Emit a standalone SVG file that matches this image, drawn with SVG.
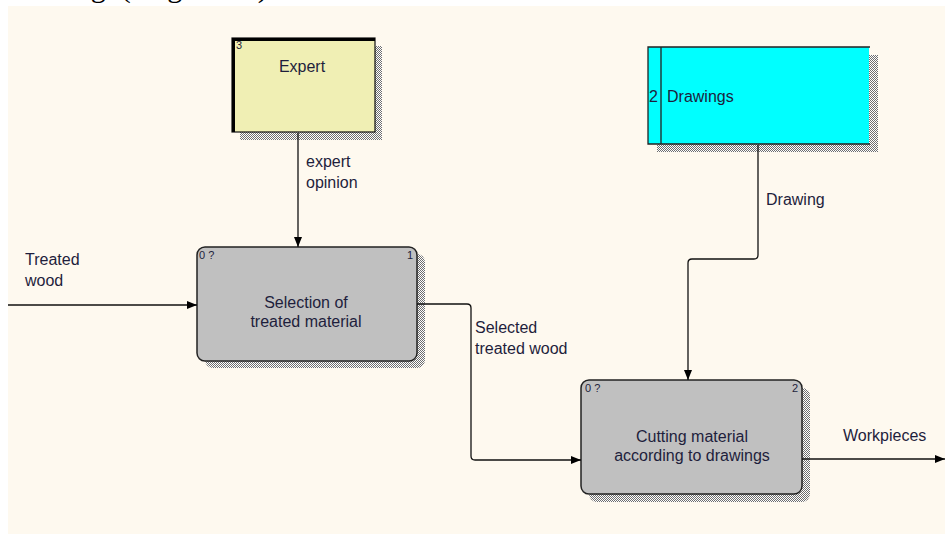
<svg xmlns="http://www.w3.org/2000/svg" width="945" height="534" viewBox="0 0 945 534">
<defs>
<pattern id="hatch" width="2" height="2" patternUnits="userSpaceOnUse">
<rect width="2" height="2" fill="#ffffff"/>
<rect width="1" height="1" fill="#6e6e6e"/>
<rect x="1" y="1" width="1" height="1" fill="#6e6e6e"/>
</pattern>
<marker id="arr" markerWidth="10" markerHeight="8" refX="10" refY="4" orient="auto" markerUnits="userSpaceOnUse">
<path d="M0,0 L10,4 L0,8 Z" fill="#000"/>
</marker>
<style>
.lbl{font-family:"Liberation Sans",Arial,sans-serif;font-size:16px;fill:#1e1e3c}
.sm{font-family:"Liberation Sans",Arial,sans-serif;font-size:11px;fill:#1e1e3c}
.shadow{fill:url(#hatch)}
.proc{fill:#c0c0c0;stroke:#222;stroke-width:1.5}
.conn{fill:none;stroke:#111;stroke-width:1.3}
</style>
</defs>
<rect x="0" y="0" width="945" height="534" fill="#ffffff"/>
<text x="17" y="-3" font-family="'Liberation Serif','Times New Roman',serif" font-size="30" fill="#000" textLength="262">awing (Fig. 3.4).</text>
<rect x="8" y="6" width="937" height="528" fill="#fef9ef"/>

<g id="expert">
<rect class="shadow" x="240" y="46" width="142" height="94"/>
<rect x="232" y="38" width="143" height="94" fill="#f0efb4" stroke="#111" stroke-width="1.2"/>
<path d="M233.5,132 V39.5 H375" fill="none" stroke="#000" stroke-width="3"/>
<text class="sm" x="236" y="49">3</text>
<text class="lbl" x="302" y="72" text-anchor="middle">Expert</text>
</g>

<g id="drawings">
<rect class="shadow" x="657" y="55" width="221" height="97"/>
<rect x="648" y="47" width="221" height="97" fill="#00ffff"/>
<path d="M870,47 H648 V144 H870 M661,47 V144" fill="none" stroke="#222" stroke-width="1.3"/>
<text class="lbl" x="649" y="102">2</text>
<text class="lbl" x="667" y="102">Drawings</text>
</g>

<g id="selection">
<rect class="shadow" x="205" y="254" width="220" height="114" rx="8"/>
<rect class="proc" x="197" y="247" width="220" height="114" rx="8"/>
<text class="sm" x="199" y="259">0 ?</text>
<text class="sm" x="407" y="259">1</text>
<text class="lbl" x="306" y="308" text-anchor="middle">Selection of</text>
<text class="lbl" x="306" y="327" text-anchor="middle">treated material</text>
</g>

<g id="cutting">
<rect class="shadow" x="589" y="388" width="221" height="114" rx="8"/>
<rect class="proc" x="581" y="380" width="221" height="114" rx="8"/>
<text class="sm" x="585" y="392">0 ?</text>
<text class="sm" x="792" y="392">2</text>
<text class="lbl" x="692" y="442" text-anchor="middle">Cutting material</text>
<text class="lbl" x="692" y="461" text-anchor="middle">according to drawings</text>
</g>

<g id="connectors">
<path class="conn" d="M298,133 V247" marker-end="url(#arr)"/>
<path class="conn" d="M758,145 V255 Q758,259 754,259 H692 Q688,259 688,263 V380" marker-end="url(#arr)"/>
<path class="conn" d="M8,305 H197" marker-end="url(#arr)"/>
<path class="conn" d="M417,304 H467 Q471,304 471,308 V456 Q471,460 475,460 H581" marker-end="url(#arr)"/>
<path class="conn" d="M802,459 H945" marker-end="url(#arr)"/>
<text class="lbl" x="306" y="167">expert</text>
<text class="lbl" x="306" y="188">opinion</text>
<text class="lbl" x="766" y="205">Drawing</text>
<text class="lbl" x="25" y="265">Treated</text>
<text class="lbl" x="25" y="286">wood</text>
<text class="lbl" x="475" y="333">Selected</text>
<text class="lbl" x="475" y="354">treated wood</text>
<text class="lbl" x="843" y="441">Workpieces</text>
</g>
</svg>
